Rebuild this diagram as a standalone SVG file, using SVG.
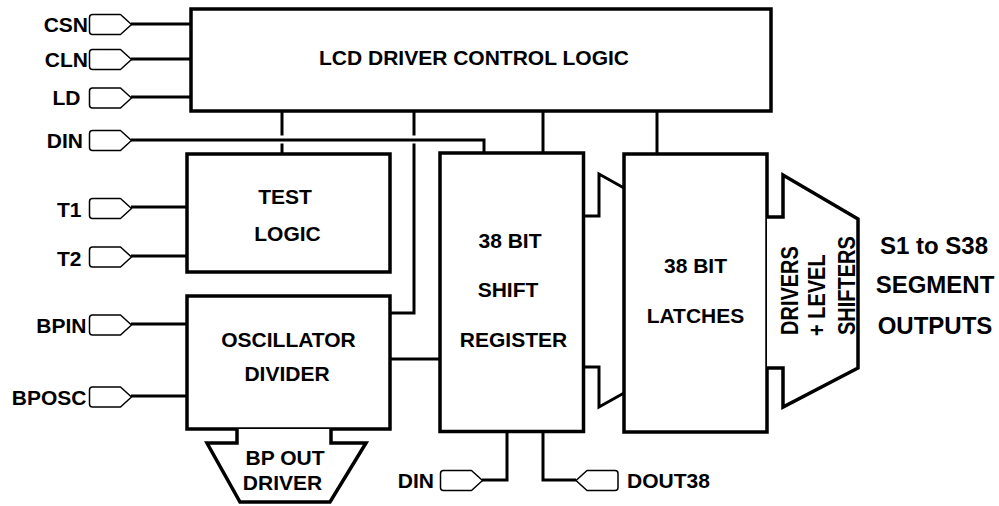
<svg xmlns="http://www.w3.org/2000/svg" width="999" height="506" viewBox="0 0 999 506">
<defs>
<style>
.box{fill:#fff;stroke:#000;stroke-width:3.5}
.ln{fill:none;stroke:#000;stroke-width:3;stroke-linejoin:miter}
.pin{fill:#fff;stroke:#000;stroke-width:1.5;stroke-linejoin:round}
.t{font-family:"Liberation Sans",Arial,sans-serif;font-weight:bold;font-size:21px;fill:#000}
.c{text-anchor:middle}
.e{text-anchor:end}
.big{font-size:24px}
.rot{font-size:20px}
</style>
<path id="pinR" class="pin" d="M3,-10 H31 L42,0 L31,10 H3 Q0,10 0,7 V-7 Q0,-10 3,-10 Z"/>
<path id="pinL" class="pin" d="M-3,-10 H-31 L-42,0 L-31,10 H-3 Q0,10 0,7 V-7 Q0,-10 -3,-10 Z"/>
</defs>
<rect width="999" height="506" fill="#fff"/>

<g id="connectors">
<line class="ln" x1="131" y1="24" x2="191" y2="24"/>
<line class="ln" x1="131" y1="59" x2="191" y2="59"/>
<line class="ln" x1="131" y1="97" x2="191" y2="97"/>
<polyline class="ln" points="131,140 484,140 484,153"/>
<line class="ln" x1="131" y1="207" x2="187" y2="207"/>
<line class="ln" x1="131" y1="256" x2="187" y2="256"/>
<line class="ln" x1="131" y1="324" x2="187" y2="324"/>
<line class="ln" x1="131" y1="396" x2="187" y2="396"/>
<line class="ln" x1="282" y1="111" x2="282" y2="135.5"/>
<line class="ln" x1="282" y1="143.5" x2="282" y2="154"/>
<line class="ln" x1="414" y1="111" x2="414" y2="135.5"/>
<polyline class="ln" points="414,143.5 414,313 390,313"/>
<line class="ln" x1="543" y1="111" x2="543" y2="153"/>
<line class="ln" x1="657" y1="111" x2="657" y2="154"/>
<line class="ln" x1="390" y1="359" x2="440" y2="359"/>
<polyline class="ln" points="583,216 599,216 599,174 624,188"/>
<polyline class="ln" points="583,367 599,367 599,407 624,393"/>
<polyline class="ln" points="507,432 507,480 482,480"/>
<polyline class="ln" points="543,432 543,480 576,480"/>
</g>

<g id="pins">
<g id="pin-csn"><use href="#pinR" x="89.5" y="24.5"/><text class="t e" x="88" y="31.7">CSN</text></g>
<g id="pin-cln"><use href="#pinR" x="89.5" y="59.5"/><text class="t e" x="88" y="66.7">CLN</text></g>
<g id="pin-ld"><use href="#pinR" x="89.5" y="98"/><text class="t e" x="80.5" y="104.5">LD</text></g>
<g id="pin-din"><use href="#pinR" x="89.5" y="140.5"/><text class="t e" x="83" y="147.7">DIN</text></g>
<g id="pin-t1"><use href="#pinR" x="89.5" y="208.5"/><text class="t e" x="81.5" y="216.7">T1</text></g>
<g id="pin-t2"><use href="#pinR" x="89.5" y="257"/><text class="t e" x="81.5" y="266">T2</text></g>
<g id="pin-bpin"><use href="#pinR" x="89.5" y="325"/><text class="t e" x="86.5" y="333.3">BPIN</text></g>
<g id="pin-bposc"><use href="#pinR" x="89.5" y="397"/><text class="t e" x="86.5" y="405">BPOSC</text></g>
<g id="pin-din2"><use href="#pinR" x="440.5" y="480.5"/><text class="t e" x="434" y="487.5">DIN</text></g>
<g id="pin-dout38"><use href="#pinL" x="618" y="480.5"/><text class="t" x="627" y="487.5">DOUT38</text></g>
</g>

<g id="control-logic">
<rect class="box" x="191" y="9" width="580" height="102"/>
<text class="t c" x="474" y="65">LCD DRIVER CONTROL LOGIC</text>
</g>

<g id="test-logic">
<rect class="box" x="187" y="154" width="203" height="118"/>
<text class="t c" x="285" y="204">TEST</text>
<text class="t c" x="287.5" y="241">LOGIC</text>
</g>

<g id="oscillator-divider">
<rect class="box" x="187" y="296" width="203" height="133"/>
<text class="t c" x="288.5" y="347.3">OSCILLATOR</text>
<text class="t c" x="287" y="381">DIVIDER</text>
</g>

<g id="bp-out-driver">
<path class="box" d="M237,429 V443 H207 L240,502 H330 L366,443 H331 V429"/>
<text class="t c" x="285" y="465">BP OUT</text>
<text class="t c" x="282.5" y="490">DRIVER</text>
</g>

<g id="shift-register">
<rect class="box" x="440" y="153" width="143.5" height="278.5"/>
<text class="t c" x="510" y="247.7">38 BIT</text>
<text class="t c" x="508" y="297.3">SHIFT</text>
<text class="t c" x="513.5" y="347.3">REGISTER</text>
</g>

<g id="latches">
<rect class="box" x="624" y="154" width="143" height="278"/>
<text class="t c" x="695.5" y="273">38 BIT</text>
<text class="t c" x="695.5" y="323.3">LATCHES</text>
</g>

<g id="drivers-level-shifters">
<path class="box" d="M767,217 H783 V175 L858,219 V368 L783,407 V368 H767"/>
<text class="t rot" transform="translate(797.5,335) rotate(-90) scale(1,1.15)">DRIVERS</text>
<text class="t rot" transform="translate(825,336) rotate(-90) scale(1,1.15)">+ LEVEL</text>
<text class="t rot" transform="translate(855,335) rotate(-90) scale(1,1.15)">SHIFTERS</text>
</g>

<g id="segment-outputs">
<text class="t c big" x="934" y="254">S1 to S38</text>
<text class="t c big" x="935" y="293.3">SEGMENT</text>
<text class="t c big" x="935" y="334">OUTPUTS</text>
</g>
</svg>
